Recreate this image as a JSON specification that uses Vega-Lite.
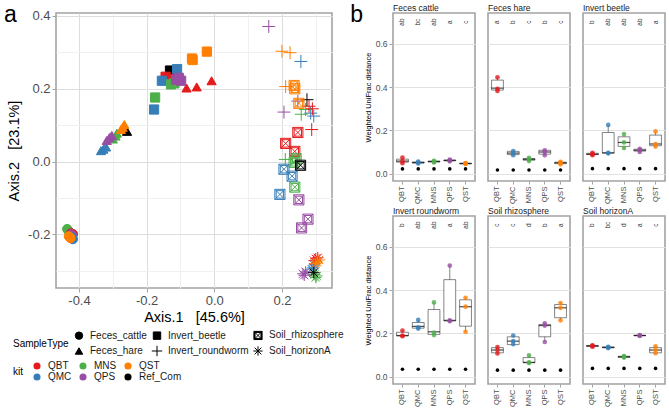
{
"$schema": "https://vega.github.io/schema/vega-lite/v6.json",
"padding": {"left": 3, "top": 2, "right": 0, "bottom": 0},
"spacing": 5,
"datasets": {
"pa": [
{"SampleType":"Feces_cattle","kit":"Ref_Com","x":-0.422,"y":-0.205},
{"SampleType":"Feces_cattle","kit":"MNS","x":-0.435,"y":-0.185},
{"SampleType":"Feces_cattle","kit":"MNS","x":-0.431,"y":-0.19},
{"SampleType":"Feces_cattle","kit":"MNS","x":-0.428,"y":-0.195},
{"SampleType":"Feces_cattle","kit":"QBT","x":-0.418,"y":-0.199},
{"SampleType":"Feces_cattle","kit":"QBT","x":-0.421,"y":-0.204},
{"SampleType":"Feces_cattle","kit":"QBT","x":-0.424,"y":-0.197},
{"SampleType":"Feces_cattle","kit":"QPS","x":-0.42,"y":-0.203},
{"SampleType":"Feces_cattle","kit":"QPS","x":-0.423,"y":-0.2},
{"SampleType":"Feces_cattle","kit":"QPS","x":-0.425,"y":-0.202},
{"SampleType":"Feces_cattle","kit":"QMC","x":-0.418,"y":-0.213},
{"SampleType":"Feces_cattle","kit":"QMC","x":-0.42,"y":-0.21},
{"SampleType":"Feces_cattle","kit":"QMC","x":-0.422,"y":-0.207},
{"SampleType":"Feces_cattle","kit":"QST","x":-0.427,"y":-0.208},
{"SampleType":"Feces_cattle","kit":"QST","x":-0.43,"y":-0.205},
{"SampleType":"Feces_cattle","kit":"QST","x":-0.425,"y":-0.21},
{"SampleType":"Feces_hare","kit":"Ref_Com","x":-0.258,"y":0.083},
{"SampleType":"Feces_hare","kit":"QMC","x":-0.335,"y":0.03},
{"SampleType":"Feces_hare","kit":"QMC","x":-0.328,"y":0.034},
{"SampleType":"Feces_hare","kit":"QMC","x":-0.32,"y":0.04},
{"SampleType":"Feces_hare","kit":"MNS","x":-0.3,"y":0.062},
{"SampleType":"Feces_hare","kit":"MNS","x":-0.292,"y":0.07},
{"SampleType":"Feces_hare","kit":"MNS","x":-0.288,"y":0.078},
{"SampleType":"Feces_hare","kit":"QPS","x":-0.318,"y":0.058},
{"SampleType":"Feces_hare","kit":"QPS","x":-0.31,"y":0.066},
{"SampleType":"Feces_hare","kit":"QPS","x":-0.303,"y":0.072},
{"SampleType":"Feces_hare","kit":"QST","x":-0.276,"y":0.088},
{"SampleType":"Feces_hare","kit":"QST","x":-0.271,"y":0.094},
{"SampleType":"Feces_hare","kit":"QST","x":-0.266,"y":0.102},
{"SampleType":"Feces_hare","kit":"QBT","x":-0.082,"y":0.202},
{"SampleType":"Feces_hare","kit":"QBT","x":-0.052,"y":0.205},
{"SampleType":"Feces_hare","kit":"QBT","x":-0.008,"y":0.222},
{"SampleType":"Invert_beetle","kit":"Ref_Com","x":-0.131,"y":0.25},
{"SampleType":"Invert_beetle","kit":"QBT","x":-0.144,"y":0.233},
{"SampleType":"Invert_beetle","kit":"QBT","x":-0.135,"y":0.226},
{"SampleType":"Invert_beetle","kit":"QBT","x":-0.125,"y":0.224},
{"SampleType":"Invert_beetle","kit":"QMC","x":-0.178,"y":0.143},
{"SampleType":"Invert_beetle","kit":"QMC","x":-0.155,"y":0.222},
{"SampleType":"Invert_beetle","kit":"QMC","x":-0.11,"y":0.254},
{"SampleType":"Invert_beetle","kit":"MNS","x":-0.175,"y":0.176},
{"SampleType":"Invert_beetle","kit":"MNS","x":-0.128,"y":0.212},
{"SampleType":"Invert_beetle","kit":"MNS","x":-0.118,"y":0.215},
{"SampleType":"Invert_beetle","kit":"QPS","x":-0.113,"y":0.225},
{"SampleType":"Invert_beetle","kit":"QPS","x":-0.098,"y":0.222},
{"SampleType":"Invert_beetle","kit":"QPS","x":-0.105,"y":0.23},
{"SampleType":"Invert_beetle","kit":"QST","x":-0.066,"y":0.283},
{"SampleType":"Invert_beetle","kit":"QST","x":-0.022,"y":0.302},
{"SampleType":"Invert_beetle","kit":"QST","x":-0.064,"y":0.279},
{"SampleType":"Invert_roundworm","kit":"QPS","x":0.161,"y":0.371},
{"SampleType":"Invert_roundworm","kit":"QPS","x":0.206,"y":0.136},
{"SampleType":"Invert_roundworm","kit":"QPS","x":0.247,"y":0.166},
{"SampleType":"Invert_roundworm","kit":"QST","x":0.2,"y":0.303},
{"SampleType":"Invert_roundworm","kit":"QST","x":0.224,"y":0.299},
{"SampleType":"Invert_roundworm","kit":"QST","x":0.211,"y":0.206},
{"SampleType":"Invert_roundworm","kit":"QMC","x":0.256,"y":0.275},
{"SampleType":"Invert_roundworm","kit":"QMC","x":0.294,"y":0.125},
{"SampleType":"Invert_roundworm","kit":"QMC","x":0.285,"y":0.133},
{"SampleType":"Invert_roundworm","kit":"MNS","x":0.27,"y":0.143},
{"SampleType":"Invert_roundworm","kit":"MNS","x":0.257,"y":0.13},
{"SampleType":"Invert_roundworm","kit":"MNS","x":0.21,"y":0.006},
{"SampleType":"Invert_roundworm","kit":"QBT","x":0.288,"y":0.088},
{"SampleType":"Invert_roundworm","kit":"QBT","x":0.28,"y":0.152},
{"SampleType":"Invert_roundworm","kit":"QBT","x":0.29,"y":0.145},
{"SampleType":"Invert_roundworm","kit":"Ref_Com","x":0.274,"y":0.17},
{"SampleType":"Soil_rhizosphere","kit":"QST","x":0.236,"y":0.209},
{"SampleType":"Soil_rhizosphere","kit":"QST","x":0.238,"y":0.2},
{"SampleType":"Soil_rhizosphere","kit":"QST","x":0.25,"y":0.16},
{"SampleType":"Soil_rhizosphere","kit":"QBT","x":0.247,"y":0.08},
{"SampleType":"Soil_rhizosphere","kit":"QBT","x":0.211,"y":0.05},
{"SampleType":"Soil_rhizosphere","kit":"QBT","x":0.238,"y":0.028},
{"SampleType":"Soil_rhizosphere","kit":"MNS","x":0.236,"y":-0.002},
{"SampleType":"Soil_rhizosphere","kit":"MNS","x":0.242,"y":0.008},
{"SampleType":"Soil_rhizosphere","kit":"MNS","x":0.238,"y":-0.07},
{"SampleType":"Soil_rhizosphere","kit":"QMC","x":0.206,"y":-0.021},
{"SampleType":"Soil_rhizosphere","kit":"QMC","x":0.23,"y":-0.04},
{"SampleType":"Soil_rhizosphere","kit":"QMC","x":0.194,"y":-0.09},
{"SampleType":"Soil_rhizosphere","kit":"QPS","x":0.25,"y":-0.105},
{"SampleType":"Soil_rhizosphere","kit":"QPS","x":0.277,"y":-0.158},
{"SampleType":"Soil_rhizosphere","kit":"QPS","x":0.258,"y":-0.182},
{"SampleType":"Soil_rhizosphere","kit":"Ref_Com","x":0.255,"y":-0.01},
{"SampleType":"Soil_horizonA","kit":"QPS","x":0.262,"y":-0.308},
{"SampleType":"Soil_horizonA","kit":"QPS","x":0.27,"y":-0.303},
{"SampleType":"Soil_horizonA","kit":"QPS","x":0.266,"y":-0.312},
{"SampleType":"Soil_horizonA","kit":"QMC","x":0.288,"y":-0.295},
{"SampleType":"Soil_horizonA","kit":"QMC","x":0.292,"y":-0.29},
{"SampleType":"Soil_horizonA","kit":"QMC","x":0.296,"y":-0.284},
{"SampleType":"Soil_horizonA","kit":"MNS","x":0.3,"y":-0.318},
{"SampleType":"Soil_horizonA","kit":"MNS","x":0.297,"y":-0.31},
{"SampleType":"Soil_horizonA","kit":"MNS","x":0.303,"y":-0.314},
{"SampleType":"Soil_horizonA","kit":"QBT","x":0.3,"y":-0.267},
{"SampleType":"Soil_horizonA","kit":"QBT","x":0.306,"y":-0.264},
{"SampleType":"Soil_horizonA","kit":"QBT","x":0.295,"y":-0.272},
{"SampleType":"Soil_horizonA","kit":"QST","x":0.305,"y":-0.276},
{"SampleType":"Soil_horizonA","kit":"QST","x":0.31,"y":-0.27},
{"SampleType":"Soil_horizonA","kit":"QST","x":0.3,"y":-0.28},
{"SampleType":"Soil_horizonA","kit":"Ref_Com","x":0.294,"y":-0.305}
],
"pb": [
{"panel":"Feces cattle","kit":"QBT","kind":"box","lo":0.048,"q1":0.053,"med":0.058,"q3":0.067,"hi":0.074},
{"panel":"Feces cattle","kit":"QMC","kind":"box","lo":0.047,"q1":0.049,"med":0.051,"q3":0.054,"hi":0.056},
{"panel":"Feces cattle","kit":"MNS","kind":"box","lo":0.052,"q1":0.054,"med":0.056,"q3":0.058,"hi":0.059},
{"panel":"Feces cattle","kit":"QPS","kind":"box","lo":0.057,"q1":0.059,"med":0.061,"q3":0.063,"hi":0.065},
{"panel":"Feces cattle","kit":"QST","kind":"box","lo":0.044,"q1":0.045,"med":0.047,"q3":0.048,"hi":0.049},
{"panel":"Feces hare","kit":"QBT","kind":"box","lo":0.382,"q1":0.386,"med":0.395,"q3":0.432,"hi":0.445},
{"panel":"Feces hare","kit":"QMC","kind":"box","lo":0.085,"q1":0.088,"med":0.095,"q3":0.103,"hi":0.104},
{"panel":"Feces hare","kit":"MNS","kind":"box","lo":0.058,"q1":0.062,"med":0.066,"q3":0.07,"hi":0.073},
{"panel":"Feces hare","kit":"QPS","kind":"box","lo":0.085,"q1":0.09,"med":0.1,"q3":0.108,"hi":0.108},
{"panel":"Feces hare","kit":"QST","kind":"box","lo":0.043,"q1":0.046,"med":0.05,"q3":0.053,"hi":0.055},
{"panel":"Invert beetle","kit":"QBT","kind":"box","lo":0.085,"q1":0.088,"med":0.09,"q3":0.094,"hi":0.096},
{"panel":"Invert beetle","kit":"QMC","kind":"box","lo":0.094,"q1":0.095,"med":0.096,"q3":0.19,"hi":0.225},
{"panel":"Invert beetle","kit":"MNS","kind":"box","lo":0.118,"q1":0.126,"med":0.144,"q3":0.17,"hi":0.183},
{"panel":"Invert beetle","kit":"QPS","kind":"box","lo":0.1,"q1":0.104,"med":0.108,"q3":0.113,"hi":0.115},
{"panel":"Invert beetle","kit":"QST","kind":"box","lo":0.125,"q1":0.129,"med":0.137,"q3":0.178,"hi":0.195},
{"panel":"Invert roundworm","kit":"QBT","kind":"box","lo":0.187,"q1":0.188,"med":0.19,"q3":0.205,"hi":0.213},
{"panel":"Invert roundworm","kit":"QMC","kind":"box","lo":0.222,"q1":0.224,"med":0.232,"q3":0.25,"hi":0.262},
{"panel":"Invert roundworm","kit":"MNS","kind":"box","lo":0.192,"q1":0.195,"med":0.207,"q3":0.31,"hi":0.343},
{"panel":"Invert roundworm","kit":"QPS","kind":"box","lo":0.256,"q1":0.257,"med":0.26,"q3":0.448,"hi":0.513},
{"panel":"Invert roundworm","kit":"QST","kind":"box","lo":0.207,"q1":0.233,"med":0.323,"q3":0.355,"hi":0.364},
{"panel":"Soil rhizosphere","kit":"QBT","kind":"box","lo":0.107,"q1":0.11,"med":0.123,"q3":0.134,"hi":0.137},
{"panel":"Soil rhizosphere","kit":"QMC","kind":"box","lo":0.144,"q1":0.148,"med":0.164,"q3":0.184,"hi":0.19},
{"panel":"Soil rhizosphere","kit":"MNS","kind":"box","lo":0.063,"q1":0.064,"med":0.066,"q3":0.088,"hi":0.098},
{"panel":"Soil rhizosphere","kit":"QPS","kind":"box","lo":0.16,"q1":0.184,"med":0.236,"q3":0.241,"hi":0.246},
{"panel":"Soil rhizosphere","kit":"QST","kind":"box","lo":0.26,"q1":0.272,"med":0.318,"q3":0.333,"hi":0.34},
{"panel":"Soil horizonA","kit":"QBT","kind":"box","lo":0.138,"q1":0.139,"med":0.142,"q3":0.144,"hi":0.145},
{"panel":"Soil horizonA","kit":"QMC","kind":"box","lo":0.132,"q1":0.133,"med":0.135,"q3":0.137,"hi":0.138},
{"panel":"Soil horizonA","kit":"MNS","kind":"box","lo":0.088,"q1":0.089,"med":0.092,"q3":0.094,"hi":0.095},
{"panel":"Soil horizonA","kit":"QPS","kind":"box","lo":0.188,"q1":0.189,"med":0.19,"q3":0.191,"hi":0.192},
{"panel":"Soil horizonA","kit":"QST","kind":"box","lo":0.108,"q1":0.11,"med":0.123,"q3":0.134,"hi":0.14},

{"panel":"Feces cattle","kit":"QBT","kind":"pt","v":0.048},{"panel":"Feces cattle","kit":"QBT","kind":"pt","v":0.058},{"panel":"Feces cattle","kit":"QBT","kind":"pt","v":0.074},
{"panel":"Feces cattle","kit":"QMC","kind":"pt","v":0.047},{"panel":"Feces cattle","kit":"QMC","kind":"pt","v":0.051},{"panel":"Feces cattle","kit":"QMC","kind":"pt","v":0.056},
{"panel":"Feces cattle","kit":"MNS","kind":"pt","v":0.052},{"panel":"Feces cattle","kit":"MNS","kind":"pt","v":0.056},{"panel":"Feces cattle","kit":"MNS","kind":"pt","v":0.059},
{"panel":"Feces cattle","kit":"QPS","kind":"pt","v":0.057},{"panel":"Feces cattle","kit":"QPS","kind":"pt","v":0.061},{"panel":"Feces cattle","kit":"QPS","kind":"pt","v":0.065},
{"panel":"Feces cattle","kit":"QST","kind":"pt","v":0.044},{"panel":"Feces cattle","kit":"QST","kind":"pt","v":0.047},{"panel":"Feces cattle","kit":"QST","kind":"pt","v":0.049},
{"panel":"Feces hare","kit":"QBT","kind":"pt","v":0.382},{"panel":"Feces hare","kit":"QBT","kind":"pt","v":0.392},{"panel":"Feces hare","kit":"QBT","kind":"pt","v":0.445},
{"panel":"Feces hare","kit":"QMC","kind":"pt","v":0.085},{"panel":"Feces hare","kit":"QMC","kind":"pt","v":0.095},{"panel":"Feces hare","kit":"QMC","kind":"pt","v":0.104},
{"panel":"Feces hare","kit":"MNS","kind":"pt","v":0.058},{"panel":"Feces hare","kit":"MNS","kind":"pt","v":0.066},{"panel":"Feces hare","kit":"MNS","kind":"pt","v":0.073},
{"panel":"Feces hare","kit":"QPS","kind":"pt","v":0.085},{"panel":"Feces hare","kit":"QPS","kind":"pt","v":0.1},{"panel":"Feces hare","kit":"QPS","kind":"pt","v":0.108},
{"panel":"Feces hare","kit":"QST","kind":"pt","v":0.043},{"panel":"Feces hare","kit":"QST","kind":"pt","v":0.05},{"panel":"Feces hare","kit":"QST","kind":"pt","v":0.055},
{"panel":"Invert beetle","kit":"QBT","kind":"pt","v":0.085},{"panel":"Invert beetle","kit":"QBT","kind":"pt","v":0.09},{"panel":"Invert beetle","kit":"QBT","kind":"pt","v":0.096},
{"panel":"Invert beetle","kit":"QMC","kind":"pt","v":0.094},{"panel":"Invert beetle","kit":"QMC","kind":"pt","v":0.096},{"panel":"Invert beetle","kit":"QMC","kind":"pt","v":0.225},
{"panel":"Invert beetle","kit":"MNS","kind":"pt","v":0.118},{"panel":"Invert beetle","kit":"MNS","kind":"pt","v":0.144},{"panel":"Invert beetle","kit":"MNS","kind":"pt","v":0.183},
{"panel":"Invert beetle","kit":"QPS","kind":"pt","v":0.1},{"panel":"Invert beetle","kit":"QPS","kind":"pt","v":0.108},{"panel":"Invert beetle","kit":"QPS","kind":"pt","v":0.115},
{"panel":"Invert beetle","kit":"QST","kind":"pt","v":0.125},{"panel":"Invert beetle","kit":"QST","kind":"pt","v":0.137},{"panel":"Invert beetle","kit":"QST","kind":"pt","v":0.195},
{"panel":"Invert roundworm","kit":"QBT","kind":"pt","v":0.187},{"panel":"Invert roundworm","kit":"QBT","kind":"pt","v":0.19},{"panel":"Invert roundworm","kit":"QBT","kind":"pt","v":0.213},
{"panel":"Invert roundworm","kit":"QMC","kind":"pt","v":0.222},{"panel":"Invert roundworm","kit":"QMC","kind":"pt","v":0.228},{"panel":"Invert roundworm","kit":"QMC","kind":"pt","v":0.262},
{"panel":"Invert roundworm","kit":"MNS","kind":"pt","v":0.192},{"panel":"Invert roundworm","kit":"MNS","kind":"pt","v":0.203},{"panel":"Invert roundworm","kit":"MNS","kind":"pt","v":0.343},
{"panel":"Invert roundworm","kit":"QPS","kind":"pt","v":0.256},{"panel":"Invert roundworm","kit":"QPS","kind":"pt","v":0.26},{"panel":"Invert roundworm","kit":"QPS","kind":"pt","v":0.513},
{"panel":"Invert roundworm","kit":"QST","kind":"pt","v":0.207},{"panel":"Invert roundworm","kit":"QST","kind":"pt","v":0.323},{"panel":"Invert roundworm","kit":"QST","kind":"pt","v":0.364},
{"panel":"Soil rhizosphere","kit":"QBT","kind":"pt","v":0.107},{"panel":"Soil rhizosphere","kit":"QBT","kind":"pt","v":0.123},{"panel":"Soil rhizosphere","kit":"QBT","kind":"pt","v":0.137},
{"panel":"Soil rhizosphere","kit":"QMC","kind":"pt","v":0.15},{"panel":"Soil rhizosphere","kit":"QMC","kind":"pt","v":0.164},{"panel":"Soil rhizosphere","kit":"QMC","kind":"pt","v":0.19},
{"panel":"Soil rhizosphere","kit":"MNS","kind":"pt","v":0.063},{"panel":"Soil rhizosphere","kit":"MNS","kind":"pt","v":0.066},{"panel":"Soil rhizosphere","kit":"MNS","kind":"pt","v":0.098},
{"panel":"Soil rhizosphere","kit":"QPS","kind":"pt","v":0.16},{"panel":"Soil rhizosphere","kit":"QPS","kind":"pt","v":0.236},{"panel":"Soil rhizosphere","kit":"QPS","kind":"pt","v":0.246},
{"panel":"Soil rhizosphere","kit":"QST","kind":"pt","v":0.26},{"panel":"Soil rhizosphere","kit":"QST","kind":"pt","v":0.318},{"panel":"Soil rhizosphere","kit":"QST","kind":"pt","v":0.34},
{"panel":"Soil horizonA","kit":"QBT","kind":"pt","v":0.138},{"panel":"Soil horizonA","kit":"QBT","kind":"pt","v":0.142},{"panel":"Soil horizonA","kit":"QBT","kind":"pt","v":0.145},
{"panel":"Soil horizonA","kit":"QMC","kind":"pt","v":0.132},{"panel":"Soil horizonA","kit":"QMC","kind":"pt","v":0.135},{"panel":"Soil horizonA","kit":"QMC","kind":"pt","v":0.138},
{"panel":"Soil horizonA","kit":"MNS","kind":"pt","v":0.088},{"panel":"Soil horizonA","kit":"MNS","kind":"pt","v":0.092},{"panel":"Soil horizonA","kit":"MNS","kind":"pt","v":0.095},
{"panel":"Soil horizonA","kit":"QPS","kind":"pt","v":0.188},{"panel":"Soil horizonA","kit":"QPS","kind":"pt","v":0.19},{"panel":"Soil horizonA","kit":"QPS","kind":"pt","v":0.192},
{"panel":"Soil horizonA","kit":"QST","kind":"pt","v":0.108},{"panel":"Soil horizonA","kit":"QST","kind":"pt","v":0.123},{"panel":"Soil horizonA","kit":"QST","kind":"pt","v":0.14},

{"panel":"Feces cattle","kit":"QBT","kind":"ref","v":0.022},{"panel":"Feces cattle","kit":"QMC","kind":"ref","v":0.022},{"panel":"Feces cattle","kit":"MNS","kind":"ref","v":0.022},{"panel":"Feces cattle","kit":"QPS","kind":"ref","v":0.022},{"panel":"Feces cattle","kit":"QST","kind":"ref","v":0.022},
{"panel":"Feces hare","kit":"QBT","kind":"ref","v":0.017},{"panel":"Feces hare","kit":"QMC","kind":"ref","v":0.017},{"panel":"Feces hare","kit":"MNS","kind":"ref","v":0.017},{"panel":"Feces hare","kit":"QPS","kind":"ref","v":0.017},{"panel":"Feces hare","kit":"QST","kind":"ref","v":0.017},
{"panel":"Invert beetle","kit":"QBT","kind":"ref","v":0.023},{"panel":"Invert beetle","kit":"QMC","kind":"ref","v":0.023},{"panel":"Invert beetle","kit":"MNS","kind":"ref","v":0.023},{"panel":"Invert beetle","kit":"QPS","kind":"ref","v":0.023},{"panel":"Invert beetle","kit":"QST","kind":"ref","v":0.023},
{"panel":"Invert roundworm","kit":"QBT","kind":"ref","v":0.034},{"panel":"Invert roundworm","kit":"QMC","kind":"ref","v":0.034},{"panel":"Invert roundworm","kit":"MNS","kind":"ref","v":0.034},{"panel":"Invert roundworm","kit":"QPS","kind":"ref","v":0.034},{"panel":"Invert roundworm","kit":"QST","kind":"ref","v":0.034},
{"panel":"Soil rhizosphere","kit":"QBT","kind":"ref","v":0.03},{"panel":"Soil rhizosphere","kit":"QMC","kind":"ref","v":0.03},{"panel":"Soil rhizosphere","kit":"MNS","kind":"ref","v":0.03},{"panel":"Soil rhizosphere","kit":"QPS","kind":"ref","v":0.03},{"panel":"Soil rhizosphere","kit":"QST","kind":"ref","v":0.03},
{"panel":"Soil horizonA","kit":"QBT","kind":"ref","v":0.038},{"panel":"Soil horizonA","kit":"QMC","kind":"ref","v":0.038},{"panel":"Soil horizonA","kit":"MNS","kind":"ref","v":0.038},{"panel":"Soil horizonA","kit":"QPS","kind":"ref","v":0.038},{"panel":"Soil horizonA","kit":"QST","kind":"ref","v":0.038},

{"panel":"Feces cattle","kit":"QBT","kind":"let","label":"ab"},{"panel":"Feces cattle","kit":"QMC","kind":"let","label":"bc"},{"panel":"Feces cattle","kit":"MNS","kind":"let","label":"ab"},{"panel":"Feces cattle","kit":"QPS","kind":"let","label":"a"},{"panel":"Feces cattle","kit":"QST","kind":"let","label":"c"},
{"panel":"Feces hare","kit":"QBT","kind":"let","label":"a"},{"panel":"Feces hare","kit":"QMC","kind":"let","label":"b"},{"panel":"Feces hare","kit":"MNS","kind":"let","label":"c"},{"panel":"Feces hare","kit":"QPS","kind":"let","label":"b"},{"panel":"Feces hare","kit":"QST","kind":"let","label":"c"},
{"panel":"Invert beetle","kit":"QBT","kind":"let","label":"b"},{"panel":"Invert beetle","kit":"QMC","kind":"let","label":"ab"},{"panel":"Invert beetle","kit":"MNS","kind":"let","label":"ab"},{"panel":"Invert beetle","kit":"QPS","kind":"let","label":"ab"},{"panel":"Invert beetle","kit":"QST","kind":"let","label":"a"},
{"panel":"Invert roundworm","kit":"QBT","kind":"let","label":"b"},{"panel":"Invert roundworm","kit":"QMC","kind":"let","label":"ab"},{"panel":"Invert roundworm","kit":"MNS","kind":"let","label":"ab"},{"panel":"Invert roundworm","kit":"QPS","kind":"let","label":"a"},{"panel":"Invert roundworm","kit":"QST","kind":"let","label":"ab"},
{"panel":"Soil rhizosphere","kit":"QBT","kind":"let","label":"c"},{"panel":"Soil rhizosphere","kit":"QMC","kind":"let","label":"c"},{"panel":"Soil rhizosphere","kit":"MNS","kind":"let","label":"d"},{"panel":"Soil rhizosphere","kit":"QPS","kind":"let","label":"b"},{"panel":"Soil rhizosphere","kit":"QST","kind":"let","label":"a"},
{"panel":"Soil horizonA","kit":"QBT","kind":"let","label":"b"},{"panel":"Soil horizonA","kit":"QMC","kind":"let","label":"bc"},{"panel":"Soil horizonA","kit":"MNS","kind":"let","label":"d"},{"panel":"Soil horizonA","kit":"QPS","kind":"let","label":"a"},{"panel":"Soil horizonA","kit":"QST","kind":"let","label":"c"}
]
},
"hconcat": [
{
"width": 276, "height": 275,
"title": {"text": "a", "fontSize": 23, "font": "Liberation Sans", "fontWeight": "normal", "anchor": "start", "frame": "group", "dx": -52, "offset": 0, "dy": 35, "baseline": "alphabetic"},
"data": {"name": "pa"},
"mark": {"type": "point", "strokeWidth": 1, "opacity": 1, "size": 85},
"encoding": {
"x": {"field": "x", "type": "quantitative", "scale": {"domain": [-0.468, 0.348], "nice": false, "zero": false},
 "axis": {"title": "Axis.1\u00a0\u00a0\u00a0[45.6%]", "titleFontSize": 14.5, "labelFontSize": 13, "titlePadding": 3, "labelPadding": 2, "tickSize": 4,
  "values": [-0.4,-0.3,-0.2,-0.1,0,0.1,0.2,0.3],
  "labelExpr": "abs(round(datum.value*10)) % 2 == 1 ? '' : replace(format(datum.value, '.1f'), '\u2212', '-')",
  "tickOpacity": {"condition": {"test": "abs(round(datum.value*10)) % 2 == 1", "value": 0}, "value": 1},
  "gridColor": {"condition": {"test": "abs(round(datum.value*10)) % 2 == 1", "value": "#f0f0f0"}, "value": "#dedede"}}},
"y": {"field": "y", "type": "quantitative", "scale": {"domain": [-0.347, 0.408], "nice": false, "zero": false},
 "axis": {"title": "Axis.2\u00a0\u00a0\u00a0[23.1%]", "titleFontSize": 14.5, "labelFontSize": 13, "titlePadding": 6, "labelPadding": 2, "tickSize": 4,
  "values": [-0.3,-0.2,-0.1,0,0.1,0.2,0.3,0.4],
  "labelExpr": "abs(round(datum.value*10)) % 2 == 1 ? '' : replace(format(datum.value, '.1f'), '\u2212', '-')",
  "tickOpacity": {"condition": {"test": "abs(round(datum.value*10)) % 2 == 1", "value": 0}, "value": 1},
  "gridColor": {"condition": {"test": "abs(round(datum.value*10)) % 2 == 1", "value": "#f0f0f0"}, "value": "#dedede"}}},
"shape": {"field": "SampleType", "type": "nominal",
 "scale": {"domain": ["Feces_cattle","Invert_beetle","Soil_rhizosphere","Feces_hare","Invert_roundworm","Soil_horizonA"],
  "range": ["circle","square","M-1.1,-1.1H1.1V1.1H-1.1ZM-0.8,-0.8V0.8H0.8V-0.8ZM-1.1,-1.1L1.1,1.1M-1.1,1.1L1.1,-1.1","triangle-up","M-1.4,0H1.4M0,-1.4V1.4","M-1.25,0H1.25M0,-1.25V1.25M-0.9,-0.9L0.9,0.9M-0.9,0.9L0.9,-0.9"]},
 "legend": {"orient": "none", "legendX": -43, "legendY": 317, "direction": "horizontal", "columns": 3, "title": "SampleType", "titleOrient": "left", "titleAngle": 0, "titleBaseline": "middle", "titleFontSize": 10, "titleFontWeight": "normal", "titlePadding": 5, "labelFontSize": 10, "labelColor": "#1a1a1a", "symbolSize": 55, "columnPadding": 2, "rowPadding": 1, "labelOffset": 6,
  "symbolFillColor": "black", "symbolStrokeColor": "black", "symbolStrokeWidth": 1}},
"stroke": {"field": "kit", "type": "nominal",
 "scale": {"domain": ["QBT","MNS","QST","QMC","QPS","Ref_Com"], "range": ["#E41A1C","#4DAF4A","#FF7F00","#377EB8","#984EA3","#000000"]},
 "legend": null},
"fillOpacity": {"condition": {"test": "indexof(['Invert_roundworm','Soil_rhizosphere','Soil_horizonA'], datum.SampleType) >= 0", "value": 0}, "value": 1},
"fill": {"field": "kit", "type": "nominal",
 "scale": {"domain": ["QBT","MNS","QST","QMC","QPS","Ref_Com"], "range": ["#E41A1C","#4DAF4A","#FF7F00","#377EB8","#984EA3","#000000"]},
 "legend": {"orient": "none", "legendX": -43, "legendY": 348, "direction": "horizontal", "columns": 3, "title": "kit", "titleOrient": "left", "titleAngle": 0, "titleBaseline": "middle", "titleFontSize": 10, "titleFontWeight": "normal", "titlePadding": 9, "labelFontSize": 10, "labelColor": "#1a1a1a", "symbolType": "circle", "symbolSize": 50, "symbolStrokeWidth": 0, "symbolOpacity": 1, "columnPadding": 6, "rowPadding": 1, "labelOffset": 6}}
}
},
{
"title": {"text": "b", "fontSize": 23, "font": "Liberation Sans", "fontWeight": "normal", "anchor": "start", "frame": "bounds", "dx": -14, "offset": 0, "dy": 42, "baseline": "alphabetic"},
"data": {"name": "pb"},
"facet": {"field": "panel", "type": "nominal", "title": null,
 "sort": ["Feces cattle","Feces hare","Invert beetle","Invert roundworm","Soil rhizosphere","Soil horizonA"],
 "header": {"labelAnchor": "start", "labelFontSize": 8.5, "labelColor": "#1a1a1a", "labelPadding": 1, "labelFont": "Liberation Sans"}},
"columns": 3,
"spacing": {"row": 0, "column": 11},
"resolve": {"axis": {"x": "independent"}},
"spec": {
"width": 82, "height": 168,
"layer": [
{"transform": [{"filter": "datum.kind == 'box'"}],
 "mark": {"type": "rule", "color": "#333333", "strokeWidth": 0.6},
 "encoding": {
  "x": {"field": "kit", "type": "nominal", "scale": {"type": "band", "domain": ["QBT","QMC","MNS","QPS","QST"], "paddingInner": 0.25, "paddingOuter": 0.225},
   "axis": {"title": null, "labelAngle": 270, "labelFontSize": 7.5, "tickSize": 3, "labelPadding": 2, "bandPosition": 0.5, "gridColor": "#e2e2e2"}},
  "y": {"field": "lo", "type": "quantitative", "scale": {"domain": [-0.034, 0.742], "nice": false, "zero": false},
   "axis": {"title": "Weighted UniFrac distance", "titleFontSize": 7.5, "labelFontSize": 8.5, "titlePadding": 3, "labelPadding": 2, "tickSize": 3,
    "values": [0,0.1,0.2,0.3,0.4,0.5,0.6,0.7],
    "labelExpr": "abs(round(datum.value*10)) % 2 == 1 ? '' : format(datum.value, '.1f')",
    "tickOpacity": {"condition": {"test": "abs(round(datum.value*10)) % 2 == 1", "value": 0}, "value": 1},
    "gridColor": {"condition": {"test": "abs(round(datum.value*10)) % 2 == 1", "value": "#f0f0f0"}, "value": "#e2e2e2"}}},
  "y2": {"field": "hi"}}},
{"transform": [{"filter": "datum.kind == 'box'"}],
 "mark": {"type": "bar", "fill": "white", "stroke": "#333333", "strokeWidth": 0.6},
 "encoding": {"x": {"field": "kit", "type": "nominal"}, "y": {"field": "q1", "type": "quantitative"}, "y2": {"field": "q3"}}},
{"transform": [{"filter": "datum.kind == 'box'"}],
 "mark": {"type": "tick", "color": "#000000", "thickness": 1.2, "size": 12},
 "encoding": {"x": {"field": "kit", "type": "nominal"}, "y": {"field": "med", "type": "quantitative"}}},
{"transform": [{"filter": "datum.kind == 'pt'"}],
 "mark": {"type": "circle", "size": 22, "opacity": 0.8},
 "encoding": {"x": {"field": "kit", "type": "nominal"}, "y": {"field": "v", "type": "quantitative"},
  "color": {"field": "kit", "type": "nominal", "scale": {"domain": ["QBT","QMC","MNS","QPS","QST"], "range": ["#E41A1C","#377EB8","#4DAF4A","#984EA3","#FF7F00"]}, "legend": null}}},
{"transform": [{"filter": "datum.kind == 'ref'"}],
 "mark": {"type": "circle", "size": 13, "color": "#000000", "opacity": 1},
 "encoding": {"x": {"field": "kit", "type": "nominal"}, "y": {"field": "v", "type": "quantitative"}}},
{"transform": [{"filter": "datum.kind == 'let'"}],
 "mark": {"type": "text", "angle": 270, "fontSize": 6.5, "color": "#333333", "align": "center", "baseline": "middle"},
 "encoding": {"x": {"field": "kit", "type": "nominal"}, "y": {"datum": 0.7, "type": "quantitative"}, "text": {"field": "label"}}}
]
}
}
],
"resolve": {"scale": {"color": "independent", "shape": "independent", "fill": "independent", "stroke": "independent"}, "legend": {"color": "independent", "shape": "independent", "fill": "independent", "stroke": "independent"}},
"config": {
"font": "Liberation Sans",
"view": {"stroke": "#a3a3a3", "strokeWidth": 1.6},
"axis": {"domain": false, "labelColor": "#4d4d4d", "titleColor": "#000000", "titleFontWeight": "normal", "tickColor": "#a3a3a3", "gridColor": "#e2e2e2"},
"legend": {"labelFont": "Liberation Sans", "titleFont": "Liberation Sans"}
}
}
